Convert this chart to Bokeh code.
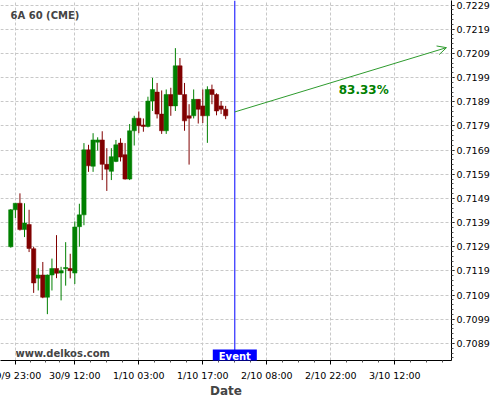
from bokeh.plotting import figure
from bokeh.models import (Range1d, FixedTicker, PrintfTickFormatter, Span, Label,
                          Arrow, OpenHead, ColumnDataSource)
from bokeh.embed import file_html
from bokeh.resources import INLINE

# ---------------- data ----------------
bars = list(range(48))
opens = [0.71290, 0.71443, 0.71470, 0.71361, 0.71382, 0.71282, 0.71160, 0.71173, 0.71081, 0.71173,
         0.71200, 0.71181, 0.71199, 0.71200, 0.71181, 0.71373, 0.71422, 0.71691, 0.71623, 0.71723,
         0.71732, 0.71631, 0.71602, 0.71643, 0.71719, 0.71671, 0.71570, 0.71770, 0.71822, 0.71794,
         0.71788, 0.71893, 0.71930, 0.71839, 0.71770, 0.71920, 0.71873, 0.72039, 0.71920, 0.71832,
         0.71832, 0.71900, 0.71873, 0.71832, 0.71941, 0.71920, 0.71873, 0.71859]
highs = [0.71446, 0.71470, 0.71511, 0.71470, 0.71443, 0.71290, 0.71201, 0.71227, 0.71175, 0.71241,
         0.71338, 0.71207, 0.71309, 0.71261, 0.71395, 0.71468, 0.71719, 0.71712, 0.71760, 0.71743,
         0.71768, 0.71698, 0.71698, 0.71732, 0.71739, 0.71719, 0.71798, 0.71832, 0.71850, 0.71821,
         0.71911, 0.71989, 0.71968, 0.71937, 0.71941, 0.71948, 0.72112, 0.72071, 0.71968, 0.71880,
         0.71941, 0.71900, 0.71941, 0.71954, 0.71961, 0.71925, 0.71893, 0.71873]
lows = [0.71286, 0.71409, 0.71357, 0.71330, 0.71268, 0.71099, 0.71109, 0.71077, 0.71011, 0.71109,
        0.71160, 0.71068, 0.71129, 0.71159, 0.71136, 0.71290, 0.71379, 0.71600, 0.71600, 0.71688,
        0.71566, 0.71521, 0.71566, 0.71640, 0.71643, 0.71568, 0.71566, 0.71709, 0.71760, 0.71766,
        0.71784, 0.71852, 0.71821, 0.71757, 0.71757, 0.71832, 0.71852, 0.71920, 0.71770, 0.71630,
        0.71821, 0.71800, 0.71802, 0.71720, 0.71880, 0.71834, 0.71839, 0.71818]
closes = [0.71443, 0.71470, 0.71361, 0.71388, 0.71283, 0.71140, 0.71173, 0.71081, 0.71173, 0.71200,
          0.71180, 0.71191, 0.71204, 0.71191, 0.71372, 0.71422, 0.71691, 0.71625, 0.71732, 0.71732,
          0.71631, 0.71611, 0.71663, 0.71712, 0.71661, 0.71570, 0.71770, 0.71822, 0.71791, 0.71788,
          0.71893, 0.71941, 0.71839, 0.71770, 0.71920, 0.71873, 0.72039, 0.71920, 0.71811, 0.71822,
          0.71900, 0.71859, 0.71832, 0.71941, 0.71920, 0.71852, 0.71859, 0.71832]

tick_bars = [1, 14, 28, 42, 56, 70, 84]
tick_labels = ["29/9 23:00", "30/9 12:00", "1/10 03:00", "1/10 17:00",
               "2/10 08:00", "2/10 22:00", "3/10 12:00"]
price_ticks = [0.7089, 0.7099, 0.7109, 0.7119, 0.7129, 0.7139, 0.7149, 0.7159,
               0.7169, 0.7179, 0.7189, 0.7199, 0.7209, 0.7219, 0.7229]

event_bar = 49
forecast_x = [49, 95.3]
forecast_y = [0.71848, 0.72114]
forecast_text = "83.33%"
forecast_text_pos = (77.2, 0.71939)

title_text = "6A 60 (CME)"
site_text = "www.delkos.com"

# ---------------- styling ----------------
GREEN = "#008000"
RED = "#800000"
FONT = "DejaVu Sans"
LEFT_PAD = 20   # part of the canvas that lies left of the window edge

colors = [GREEN if c >= o else RED for o, c in zip(opens, closes)]
src = ColumnDataSource(dict(
    x=bars, high=highs, low=lows,
    top=[max(o, c) for o, c in zip(opens, closes)],
    bottom=[min(o, c) for o, c in zip(opens, closes)],
    color=colors))

p = figure(width=500 + LEFT_PAD, height=400, output_backend="svg", toolbar_location=None,
           x_range=Range1d(-2.253, 96.40), y_range=Range1d(0.708192, 0.723092),
           y_axis_location="right",
           min_border_left=LEFT_PAD, min_border_top=0, min_border_right=49,
           min_border_bottom=36,
           styles={"position": "absolute", "left": f"-{LEFT_PAD}px", "top": "0px"})
p.outline_line_color = None
p.background_fill_color = "white"
p.border_fill_color = "white"

# ticks & grids
minor_x = []
ext = tick_bars + [tick_bars[-1] + 14]
for a, b in zip(ext[:-1], ext[1:]):
    for j in range(1, 4):
        minor_x.append(a + j * (b - a) / 4)
minor_y = [round(0.7083 + 0.0002 * k, 4) for k in range(75)]

xt = FixedTicker(ticks=tick_bars, minor_ticks=minor_x)
yt = FixedTicker(ticks=price_ticks, minor_ticks=minor_y)
p.xaxis.ticker = xt
p.yaxis.ticker = yt
p.xgrid.ticker = xt
p.ygrid.ticker = yt
p.xaxis.major_label_overrides = {t: l for t, l in zip(tick_bars, tick_labels)}
p.yaxis.formatter = PrintfTickFormatter(format="%.4f")

p.grid.grid_line_color = "#c8c8c8"
p.grid.grid_line_dash = "3 2"
p.grid.grid_line_width = 1

for ax in (p.xaxis, p.yaxis):
    ax.axis_line_color = "black"
    ax.major_tick_line_color = "black"
    ax.minor_tick_line_color = "#555555"
    ax.major_tick_in = 0
    ax.minor_tick_in = 0
    ax.major_label_text_font = FONT
    ax.major_label_text_font_size = "9.5px"
    ax.major_label_text_color = "black"

p.xaxis.major_tick_out = 4
p.xaxis.minor_tick_out = 2
p.xaxis.major_label_standoff = 5
p.xaxis.axis_label = "Date"
p.xaxis.axis_label_text_font = FONT
p.xaxis.axis_label_text_font_style = "bold"
p.xaxis.axis_label_text_font_size = "12px"
p.xaxis.axis_label_standoff = 0

p.yaxis.major_tick_out = 3
p.yaxis.minor_tick_out = 2
p.yaxis.major_label_standoff = 2

# candles
p.segment(x0="x", y0="low", x1="x", y1="high", line_color="color", line_width=1, source=src)
p.vbar(x="x", width=0.95, top="top", bottom="bottom", fill_color="color",
       line_color="color", line_width=0.5, source=src)

# event line & label
p.add_layout(Span(location=event_bar, dimension="height", line_color="#0000ff", line_width=1))
p.add_layout(Label(x=event_bar, y=-2, y_units="screen", text="Event", text_align="center",
                   text_baseline="bottom", text_color="white", text_font=FONT,
                   text_font_style="bold", text_font_size="10px",
                   background_fill_color="#0000ff",
                   padding=dict(left=6, right=6, top=1, bottom=1)))

# forecast arrow
p.add_layout(Arrow(end=OpenHead(size=9, line_color="#2e9b2e", line_width=1),
                   x_start=forecast_x[0], y_start=forecast_y[0],
                   x_end=forecast_x[1], y_end=forecast_y[1],
                   line_color="#2e9b2e", line_width=1))
p.add_layout(Label(x=forecast_text_pos[0], y=forecast_text_pos[1], text=forecast_text,
                   text_align="center", text_baseline="alphabetic", text_color="#008000",
                   text_font=FONT, text_font_style="bold", text_font_size="12px"))

# title & site text
p.add_layout(Label(x=10, y=344.7, x_units="screen", y_units="screen", text=title_text,
                   text_font=FONT, text_font_style="bold", text_font_size="10px",
                   text_baseline="alphabetic"))
p.add_layout(Label(x=15, y=7, x_units="screen", y_units="screen", text=site_text,
                   text_font=FONT, text_font_style="bold", text_font_size="10px",
                   text_baseline="alphabetic"))

open("out.html", "w").write(file_html(p, INLINE))
